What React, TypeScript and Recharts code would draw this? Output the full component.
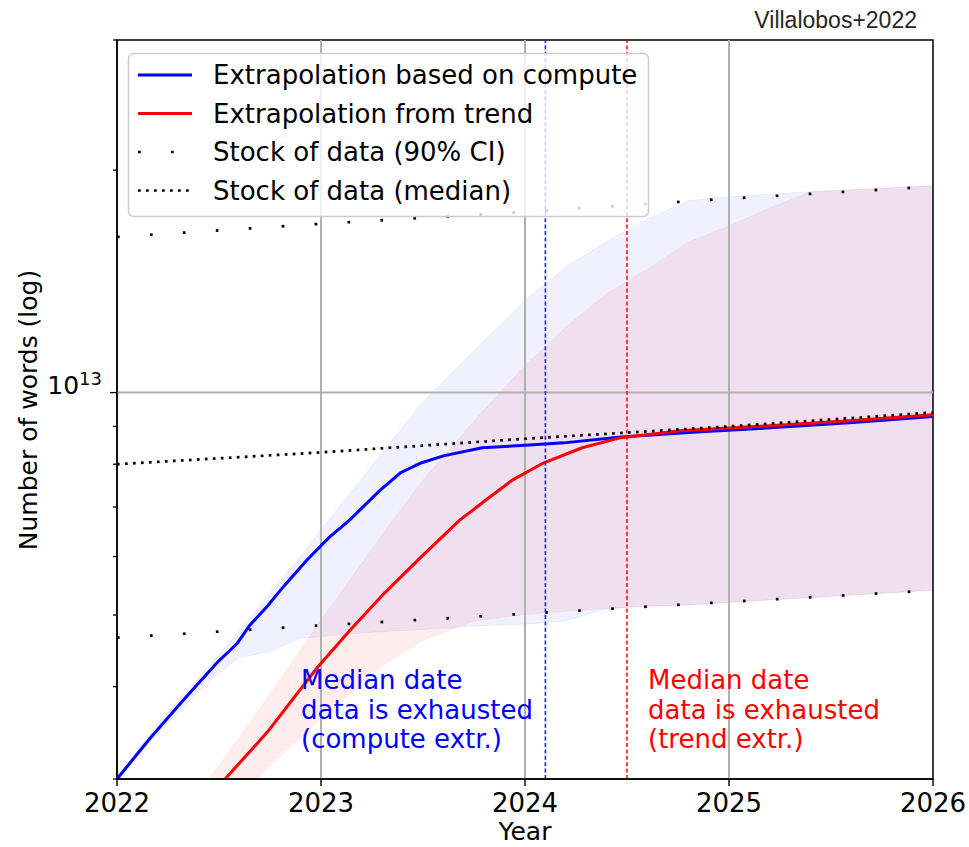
import { ComposedChart, Line, Area, XAxis, YAxis, ReferenceLine, ReferenceArea } from "recharts";

// median projection, extrapolation based on compute
const computeYears = [2022.0, 2022.16, 2022.33, 2022.49, 2022.59, 2022.65, 2022.74, 2022.82, 2022.93, 2023.04, 2023.14, 2023.29, 2023.39, 2023.49, 2023.6, 2023.79, 2024.04, 2024.19, 2024.47, 2024.86, 2025.2, 2025.59, 2026.0];
const computeWords = [3.0e12, 3.4e12, 3.85e12, 4.31e12, 4.58e12, 4.84e12, 5.15e12, 5.48e12, 5.93e12, 6.37e12, 6.72e12, 7.38e12, 7.79e12, 8.03e12, 8.21e12, 8.42e12, 8.5e12, 8.55e12, 8.71e12, 8.85e12, 8.96e12, 9.1e12, 9.28e12];

// median projection, extrapolation from trend
const trendYears = [2022.53, 2022.74, 2022.98, 2023.14, 2023.31, 2023.49, 2023.68, 2023.81, 2023.94, 2024.09, 2024.28, 2024.47, 2024.76, 2025.2, 2025.59, 2026.0];
const trendWords = [3.0e12, 3.48e12, 4.24e12, 4.76e12, 5.35e12, 5.99e12, 6.72e12, 7.16e12, 7.62e12, 8.03e12, 8.42e12, 8.69e12, 8.88e12, 9.02e12, 9.16e12, 9.33e12];

// 90% intervals of both projections
const computeBandYears = [2022.0, 2022.15, 2022.3, 2022.45, 2022.6, 2022.75, 2022.9, 2023.05, 2023.25, 2023.5, 2023.75, 2024.0, 2024.2, 2024.4, 2024.6, 2024.8, 2025.0, 2025.4, 2025.7, 2026.0];
const computeBandLow = [3.0e12, 3.34e12, 3.69e12, 4.07e12, 4.38e12, 4.46e12, 4.65e12, 4.69e12, 4.74e12, 4.78e12, 4.83e12, 4.86e12, 4.91e12, 5.1e12, 5.14e12, 5.16e12, 5.2e12, 5.28e12, 5.34e12, 5.4e12];
const computeBandHigh = [3.0e12, 3.42e12, 3.83e12, 4.26e12, 4.76e12, 5.35e12, 6.01e12, 6.79e12, 7.97e12, 9.72e12, 1.139e13, 1.334e13, 1.479e13, 1.602e13, 1.718e13, 1.818e13, 1.841e13, 1.87e13, 1.888e13, 1.905e13];

const trendBandYears = [2022.45, 2022.6, 2022.7, 2022.85, 2023.0, 2023.15, 2023.3, 2023.5, 2023.75, 2024.0, 2024.2, 2024.4, 2024.6, 2024.8, 2025.0, 2025.2, 2025.4, 2025.7, 2026.0];
const trendBandLow = [3.0e12, 3.0e12, 3.02e12, 3.32e12, 3.62e12, 3.93e12, 4.27e12, 4.62e12, 4.91e12, 5.01e12, 5.06e12, 5.1e12, 5.14e12, 5.16e12, 5.2e12, 5.24e12, 5.28e12, 5.34e12, 5.4e12];
const trendBandHigh = [3.0e12, 3.42e12, 3.74e12, 4.29e12, 4.92e12, 5.62e12, 6.42e12, 7.61e12, 9.15e12, 1.089e13, 1.226e13, 1.361e13, 1.469e13, 1.599e13, 1.681e13, 1.777e13, 1.87e13, 1.888e13, 1.905e13];

// stock of data
const stockYears = [2022, 2023, 2024, 2025, 2026];
const stockMedian = [8.0e12, 8.3e12, 8.66e12, 9.0e12, 9.4e12];
const stockLow = [4.66e12, 4.84e12, 5.02e12, 5.21e12, 5.4e12];
const stockHigh = [1.624e13, 1.692e13, 1.756e13, 1.83e13, 1.9e13];

const computeExhausted = 2024.1;
const trendExhausted = 2024.5;

const xTicks = [2022, 2023, 2024, 2025, 2026];
const yTicks = [3e12, 4e12, 5e12, 6e12, 7e12, 8e12, 9e12, 1e13, 2e13, 3e13];
const gridYears = [2023, 2024, 2025];

const legendItems = [
  { label: "Extrapolation based on compute", color: "#0000ff", width: 3, dash: undefined },
  { label: "Extrapolation from trend", color: "#ff0000", width: 3, dash: undefined },
  { label: "Stock of data (90% CI)", color: "#000", width: 2.7, dash: "2.7 30.3" },
  { label: "Stock of data (median)", color: "#000", width: 2.7, dash: "2.7 5.3" },
];

const FONT = "'DejaVu Sans', sans-serif";

type Row = { year: number; [key: string]: any };
const rows = new Map<number, Row>();
const put = (year: number, key: string, value: any) => {
  let r = rows.get(year);
  if (!r) {
    r = { year };
    rows.set(year, r);
  }
  r[key] = value;
};
computeYears.forEach((y, i) => put(y, "compute", computeWords[i]));
trendYears.forEach((y, i) => put(y, "trend", trendWords[i]));
computeBandYears.forEach((y, i) => put(y, "computeBand", [computeBandLow[i], computeBandHigh[i]]));
trendBandYears.forEach((y, i) => put(y, "trendBand", [trendBandLow[i], trendBandHigh[i]]));
stockYears.forEach((y, i) => {
  put(y, "median", stockMedian[i]);
  put(y, "low", stockLow[i]);
  put(y, "high", stockHigh[i]);
});
const data = [...rows.values()].sort((a, b) => a.year - b.year);

const XTick = (props: any) => {
  const { x, y, payload } = props;
  return (
    <g>
      <line x1={x} x2={x} y1={y} y2={y + 7} stroke="#000" strokeWidth={1.4} />
      <text x={x} y={y + 33} textAnchor="middle" fontFamily={FONT} fontSize={26} fill="#000">
        {payload.value}
      </text>
    </g>
  );
};

const YTick = (props: any) => {
  const { x, y, payload } = props;
  const major = payload.value === 1e13;
  const len = major ? 7 : 4;
  return (
    <g>
      <line x1={x - len} x2={x} y1={y} y2={y} stroke="#000" strokeWidth={1.3} />
      {major && (
        <text x={102} y={y + 1} textAnchor="end" fontFamily={FONT} fontSize={25} fill="#000">
          10
          <tspan dy={-9} fontSize={18}>13</tspan>
        </text>
      )}
    </g>
  );
};

export default function App() {
  return (
    <div style={{ position: "absolute", left: 0, top: 0, width: 969, height: 847, background: "#fff" }}>
      <ComposedChart width={969} height={847} data={data} margin={{ top: 40, right: 36, bottom: 0, left: 0 }}>
        <XAxis
          dataKey="year"
          type="number"
          domain={[2022, 2026]}
          ticks={xTicks}
          interval={0}
          allowDataOverflow
          height={68}
          tickSize={0}
          tickMargin={0}
          tickLine={false}
          tick={<XTick />}
          axisLine={{ stroke: "#000", strokeWidth: 1.5 }}
        />
        <YAxis
          type="number"
          scale="log"
          domain={[3e12, 3e13]}
          ticks={yTicks}
          interval={0}
          allowDataOverflow
          width={117}
          tickSize={0}
          tickMargin={0}
          tickLine={false}
          tick={<YTick />}
          axisLine={{ stroke: "#000", strokeWidth: 1.5 }}
        />
        {gridYears.map((g) => (
          <ReferenceLine key={g} x={g} stroke="#b0b0b0" strokeWidth={2} />
        ))}
        <ReferenceLine y={1e13} stroke="#b0b0b0" strokeWidth={2} />
        <Area
          dataKey="trendBand"
          type="linear"
          fill="#ff0000"
          fillOpacity={0.07}
          stroke="#ff0000"
          strokeOpacity={0.05}
          connectNulls
          dot={false}
          activeDot={false}
          isAnimationActive={false}
        />
        <Area
          dataKey="computeBand"
          type="linear"
          fill="#0000ff"
          fillOpacity={0.06}
          stroke="#0000ff"
          strokeOpacity={0.05}
          connectNulls
          dot={false}
          activeDot={false}
          isAnimationActive={false}
        />
        <Line dataKey="compute" type="linear" stroke="#0000ff" strokeWidth={3} dot={false} activeDot={false} connectNulls isAnimationActive={false} />
        <Line dataKey="trend" type="linear" stroke="#ff0000" strokeWidth={3} dot={false} activeDot={false} connectNulls isAnimationActive={false} />
        <Line dataKey="high" type="linear" stroke="#000" strokeWidth={2.7} strokeDasharray="2.7 30.3" dot={false} activeDot={false} connectNulls isAnimationActive={false} />
        <Line dataKey="low" type="linear" stroke="#000" strokeWidth={2.7} strokeDasharray="2.7 30.3" dot={false} activeDot={false} connectNulls isAnimationActive={false} />
        <Line dataKey="median" type="linear" stroke="#000" strokeWidth={2.7} strokeDasharray="2.7 5.3" dot={false} activeDot={false} connectNulls isAnimationActive={false} />
        <ReferenceLine x={computeExhausted} stroke="#1f1fff" strokeWidth={1.6} strokeDasharray="4 2.4" />
        <ReferenceLine x={trendExhausted} stroke="#ff0000" strokeWidth={1.5} strokeDasharray="4 2.4" />
        <ReferenceArea x1={2022} x2={2026} y1={3e12} y2={3e13} fill="none" stroke="#000" strokeWidth={1.5} ifOverflow="visible" />
      </ComposedChart>
      <svg width={969} height={847} style={{ position: "absolute", left: 0, top: 0, pointerEvents: "none" }}>
        <text x={917} y={28} textAnchor="end" fontFamily="'Liberation Sans', Arial, sans-serif" fontSize={23} fill="#262626">
          Villalobos+2022
        </text>
        <rect x={128.5} y={53.5} width={520} height={163} rx={5} fill="#fff" fillOpacity={0.8} stroke="#cccccc" strokeWidth={1.5} />
        {legendItems.map((it, i) => {
          const cy = 75 + i * 38.5;
          return (
            <g key={it.label}>
              <line x1={138} x2={192} y1={cy} y2={cy} stroke={it.color} strokeWidth={it.width} strokeDasharray={it.dash} />
              <text x={213} y={cy + 9} fontFamily={FONT} fontSize={26} fill="#000">{it.label}</text>
            </g>
          );
        })}
        <text transform="translate(37,410) rotate(-90)" textAnchor="middle" fontFamily={FONT} fontSize={25} fill="#000">
          Number of words (log)
        </text>
        <text x={525} y={840} textAnchor="middle" fontFamily={FONT} fontSize={25} fill="#000">Year</text>
        {["Median date", "data is exhausted", "(compute extr.)"].map((t, i) => (
          <text key={t} x={301} y={689 + i * 29.5} fontFamily={FONT} fontSize={26} fill="#0000ff">{t}</text>
        ))}
        {["Median date", "data is exhausted", "(trend extr.)"].map((t, i) => (
          <text key={t} x={648} y={689 + i * 29.5} fontFamily={FONT} fontSize={26} fill="#ff0000">{t}</text>
        ))}
      </svg>
    </div>
  );
}
